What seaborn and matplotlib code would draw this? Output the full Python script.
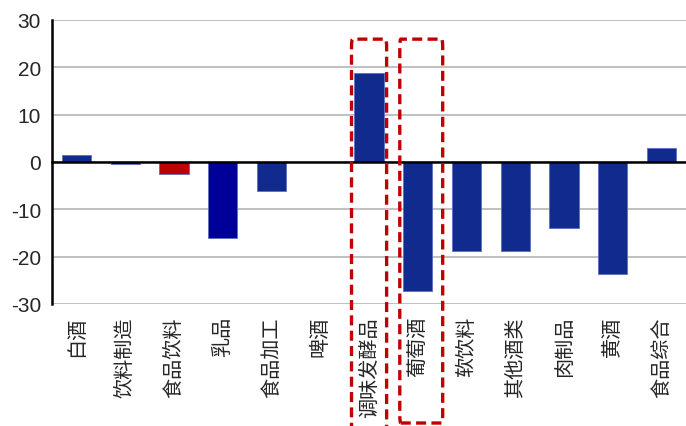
import numpy as np
import pandas as pd
import matplotlib
matplotlib.use('Agg')
import matplotlib.pyplot as plt
import matplotlib.transforms as mtransforms
from matplotlib.patches import FancyBboxPatch
import seaborn as sns

categories = ['白酒', '饮料制造', '食品饮料', '乳品', '食品加工', '啤酒', '调味发酵品',
              '葡萄酒', '软饮料', '其他酒类', '肉制品', '黄酒', '食品综合']
values = [1.4, -0.4, -2.5, -16.0, -6.2, 0.0, 18.8, -27.3, -18.8, -18.8, -14.0, -23.7, 3.0]
bar_colors = ['#102A8E', '#102A8E', '#C00000', '#000099', '#102A8E', '#102A8E', '#102A8E',
              '#102A8E', '#102A8E', '#102A8E', '#102A8E', '#102A8E', '#102A8E']
highlight = ['调味发酵品', '葡萄酒']

sns.set_style('white')
plt.rcParams['font.family'] = ['Liberation Sans', 'Noto Sans CJK SC', 'DejaVu Sans']
plt.rcParams['axes.unicode_minus'] = False

df = pd.DataFrame({'category': categories, 'value': values})

fig = plt.figure(figsize=(6.86, 4.27), dpi=100)
ax = fig.add_axes([0.076, 0.286, 0.924, 0.665])

sns.barplot(data=df, x='category', y='value', hue='category', palette=bar_colors,
            legend=False, width=0.6, saturation=1, edgecolor='#5A6FC0', linewidth=0.6,
            ax=ax, zorder=3)

ax.set_ylim(-30, 30)
ax.set_xlim(-0.5, len(categories) - 0.5)
ax.set_yticks(np.arange(-30, 31, 10))
ax.yaxis.grid(True, color='#C0C0C0', linewidth=1.4, zorder=0)
ax.set_axisbelow(True)
ax.set_xlabel('')
ax.set_ylabel('')

for side in ['top', 'right']:
    ax.spines[side].set_visible(False)
ax.spines['left'].set_linewidth(1.8)
ax.spines['left'].set_color('black')
ax.spines['bottom'].set_position(('data', 0))
ax.spines['bottom'].set_linewidth(1.8)
ax.spines['bottom'].set_color('black')
ax.spines['bottom'].set_zorder(4)

ax.tick_params(axis='y', direction='out', length=5, width=1.8, labelsize=15, pad=3)
ax.set_xticks(np.arange(len(categories)))
ax.set_xticklabels(categories, rotation=90, fontsize=14.5, family='Noto Sans CJK SC',
                   va='top', ha='center')
ax.set_xticks(np.arange(0.5, len(categories) - 0.5, 1), minor=True)
ax.tick_params(axis='x', which='major', length=0, pad=111)
ax.tick_params(axis='x', which='minor', direction='out', length=5, width=1.8, color='black')

# dashed highlight boxes
trans = mtransforms.blended_transform_factory(ax.transData, fig.transFigure)
for name, half, shift, bottom in [(highlight[0], 0.36, 0.0, -0.02), (highlight[1], 0.44, 0.07, 0.007)]:
    idx = categories.index(name)
    box = FancyBboxPatch((idx + shift - half, bottom), 2 * half, 0.906 - bottom,
                         boxstyle='round,pad=0,rounding_size=0.02', transform=trans,
                         fill=False, edgecolor='#C00000', linewidth=2.4,
                         linestyle=(0, (3, 1.6)), clip_on=False, zorder=5,
                         mutation_aspect=1)
    fig.patches.append(box)

plt.savefig('out.png', dpi=100)
